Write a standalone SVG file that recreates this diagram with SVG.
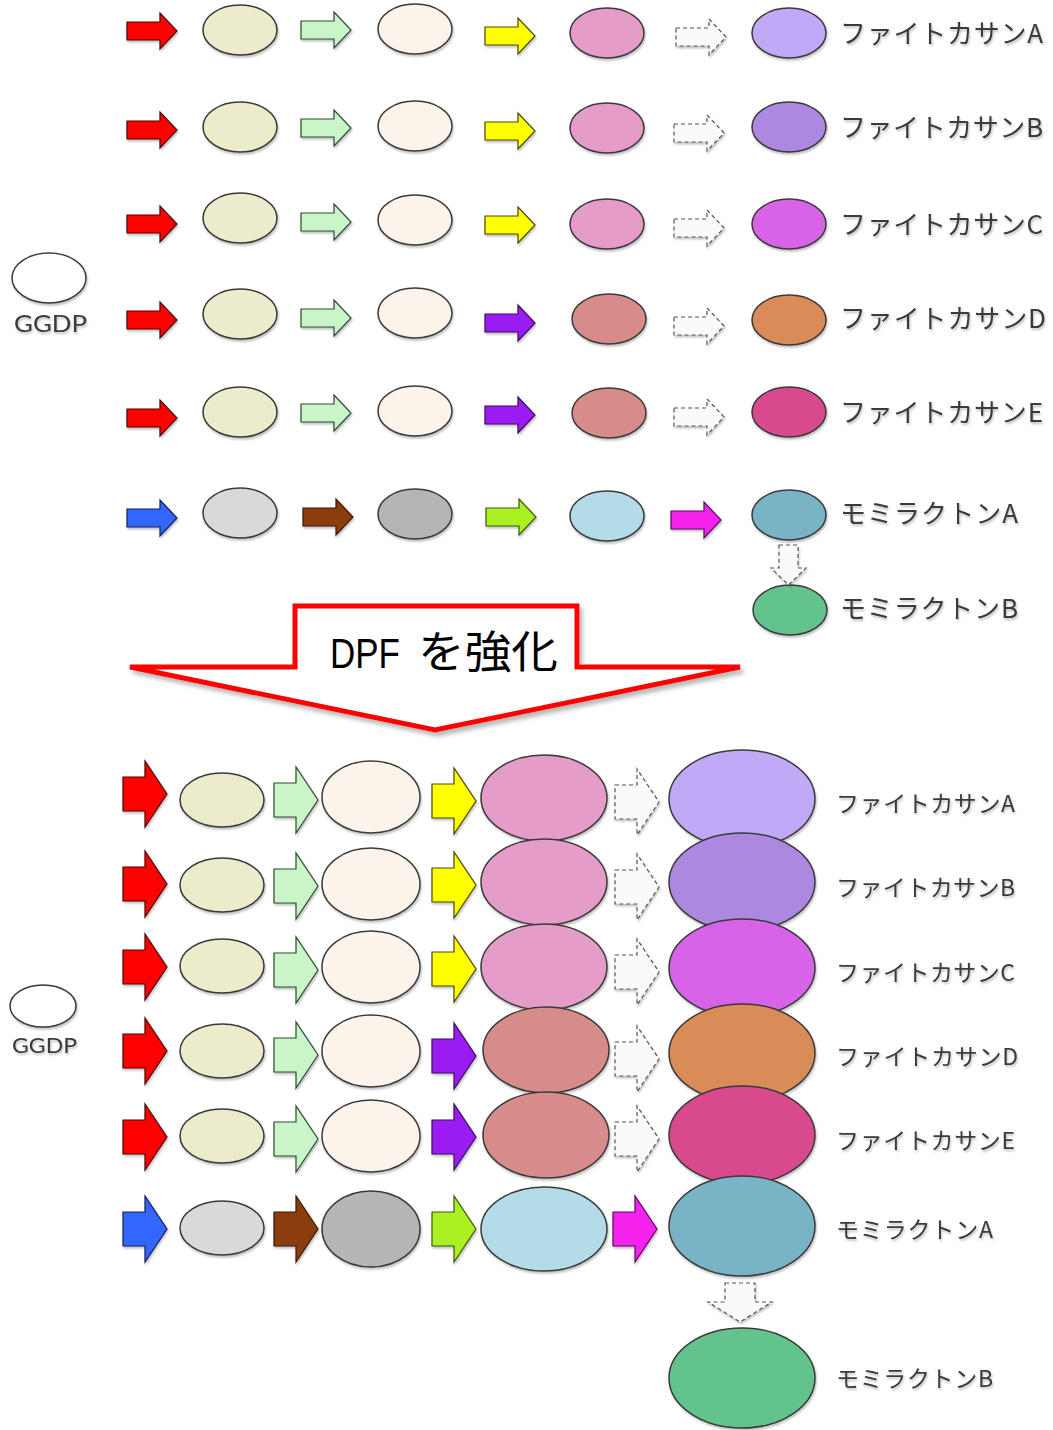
<svg xmlns="http://www.w3.org/2000/svg" xmlns:xlink="http://www.w3.org/1999/xlink" width="1053" height="1430" viewBox="0 0 1053 1430">
<style>
.n ellipse{stroke:#3a3a3a;stroke-width:1.5}
.cream{fill:#ecebcb}.peach{fill:#fcf3ea}.pink{fill:#e69cc9}.lav{fill:#c0aaf8}.vio{fill:#ac88e0}.orc{fill:#d862e8}.org{fill:#d98c58}.rose{fill:#d84a8e}.sal{fill:#d78c8a}.lgr{fill:#d9d9d9}.gry{fill:#b5b5b5}.lbl{fill:#b4dce8}.teal{fill:#79b3c6}.grn2{fill:#62c48c}.wht{fill:#ffffff}
.red{fill:#ff0000;stroke:#4a0a0a;stroke-width:1.2}
.grn{fill:#c9f5c9;stroke:#2e4a2e;stroke-width:1.2}
.yel{fill:#ffff00;stroke:#4a4a00;stroke-width:1.2}
.pur{fill:#9b1ff2;stroke:#3a0a5a;stroke-width:1.2}
.dsh{fill:#fafafa;stroke:#555;stroke-width:1.2;stroke-dasharray:4 3}
.blu{fill:#3366ff;stroke:#10205a;stroke-width:1.2}
.brn{fill:#8b3c0c;stroke:#3a1a05;stroke-width:1.2}
.lim{fill:#aaf024;stroke:#3a5a0a;stroke-width:1.2}
.mag{fill:#f521ee;stroke:#5a0a5a;stroke-width:1.2}
.lt{font-family:"Noto Sans CJK JP","Noto Sans",sans-serif;fill:#3a3a3a}
.lg{font-family:Lato,"Noto Sans",sans-serif;fill:#3a3a3a}
</style>
<defs>
<filter id="sh" x="-20%" y="-20%" width="140%" height="150%"><feDropShadow dx="1" dy="2" stdDeviation="1.2" flood-opacity="0.25"/></filter>
<filter id="sh2" x="-10%" y="-10%" width="120%" height="140%"><feDropShadow dx="3" dy="4" stdDeviation="2" flood-color="#888" flood-opacity="0.6"/></filter>
<path id="aT" d="M0,-9H33V-18L50,0L33,18V9H0Z"/>
<path id="aB" d="M0,-17H22V-33L44,0L22,33V17H0Z"/>
<path id="dT" d="M-9.5,0H9.5V23H17.5L0,40L-17.5,23H-9.5Z"/>
<path id="dB" d="M-15,0H15V19H32L0,39L-32,19H-15Z"/>
</defs>
<rect width="1053" height="1430" fill="#ffffff"/>

<!-- TOP SECTION -->
<g id="top-ggdp" class="n" filter="url(#sh)"><ellipse class="wht" cx="49" cy="278" rx="37" ry="25"/><text class="lg" x="14" y="332" font-size="24" textLength="73" lengthAdjust="spacingAndGlyphs">GGDP</text></g>

<g id="top-nodes" class="n" filter="url(#sh)">
<g id="t1-e1"><ellipse class="cream" cx="240" cy="30" rx="37" ry="25"/></g>
<g id="t1-e2"><ellipse class="peach" cx="415" cy="29" rx="37" ry="25"/></g>
<g id="t1-e3"><ellipse class="pink" cx="607" cy="33" rx="37" ry="25"/></g>
<g id="t1-e4"><ellipse class="lav" cx="789" cy="33" rx="37" ry="25"/><text class="lt" x="840" y="43" font-size="26" textLength="203" lengthAdjust="spacing">ファイトカサンA</text></g>

<g id="t2-e1"><ellipse class="cream" cx="240" cy="127" rx="37" ry="25"/></g>
<g id="t2-e2"><ellipse class="peach" cx="415" cy="126" rx="37" ry="25"/></g>
<g id="t2-e3"><ellipse class="pink" cx="607" cy="128" rx="37" ry="25"/></g>
<g id="t2-e4"><ellipse class="vio" cx="789" cy="127" rx="37" ry="25"/><text class="lt" x="840" y="137" font-size="26" textLength="203" lengthAdjust="spacing">ファイトカサンB</text></g>

<g id="t3-e1"><ellipse class="cream" cx="240" cy="218" rx="37" ry="25"/></g>
<g id="t3-e2"><ellipse class="peach" cx="415" cy="220" rx="37" ry="25"/></g>
<g id="t3-e3"><ellipse class="pink" cx="607" cy="224" rx="37" ry="25"/></g>
<g id="t3-e4"><ellipse class="orc" cx="789" cy="224" rx="37" ry="25"/><text class="lt" x="840" y="234" font-size="26" textLength="203" lengthAdjust="spacing">ファイトカサンC</text></g>

<g id="t4-e1"><ellipse class="cream" cx="240" cy="314" rx="37" ry="25"/></g>
<g id="t4-e2"><ellipse class="peach" cx="415" cy="313" rx="37" ry="25"/></g>
<g id="t4-e3"><ellipse class="sal" cx="609" cy="319" rx="37" ry="25"/></g>
<g id="t4-e4"><ellipse class="org" cx="789" cy="320" rx="37" ry="25"/><text class="lt" x="840" y="328" font-size="26" textLength="206" lengthAdjust="spacing">ファイトカサンD</text></g>

<g id="t5-e1"><ellipse class="cream" cx="240" cy="412" rx="37" ry="25"/></g>
<g id="t5-e2"><ellipse class="peach" cx="415" cy="411" rx="37" ry="25"/></g>
<g id="t5-e3"><ellipse class="sal" cx="609" cy="413" rx="37" ry="25"/></g>
<g id="t5-e4"><ellipse class="rose" cx="789" cy="412" rx="37" ry="25"/><text class="lt" x="840" y="422" font-size="26" textLength="203" lengthAdjust="spacing">ファイトカサンE</text></g>

<g id="t6-e1"><ellipse class="lgr" cx="240" cy="513" rx="37" ry="25"/></g>
<g id="t6-e2"><ellipse class="gry" cx="415" cy="514" rx="37" ry="25"/></g>
<g id="t6-e3"><ellipse class="lbl" cx="607" cy="516" rx="37" ry="25"/></g>
<g id="t6-e4"><ellipse class="teal" cx="789" cy="515" rx="37" ry="25"/><text class="lt" x="840" y="523" font-size="26" textLength="178" lengthAdjust="spacing">モミラクトンA</text></g>
<g id="t7-e4"><ellipse class="grn2" cx="790" cy="610" rx="37" ry="25"/><text class="lt" x="840" y="618" font-size="26" textLength="178" lengthAdjust="spacing">モミラクトンB</text></g>
</g>

<g id="top-connectors" filter="url(#sh)">
<use href="#aT" x="127" y="31" class="red"/><use href="#aT" x="301" y="30" class="grn"/><use href="#aT" x="485" y="36" class="yel"/><use href="#aT" x="676" y="37" class="dsh"/>
<use href="#aT" x="127" y="130" class="red"/><use href="#aT" x="301" y="128" class="grn"/><use href="#aT" x="485" y="131" class="yel"/><use href="#aT" x="674" y="133" class="dsh"/>
<use href="#aT" x="127" y="224" class="red"/><use href="#aT" x="301" y="222" class="grn"/><use href="#aT" x="485" y="225" class="yel"/><use href="#aT" x="674" y="228" class="dsh"/>
<use href="#aT" x="127" y="320" class="red"/><use href="#aT" x="301" y="318" class="grn"/><use href="#aT" x="485" y="323" class="pur"/><use href="#aT" x="674" y="326" class="dsh"/>
<use href="#aT" x="127" y="418" class="red"/><use href="#aT" x="301" y="413" class="grn"/><use href="#aT" x="485" y="415" class="pur"/><use href="#aT" x="674" y="417" class="dsh"/>
<use href="#aT" x="127" y="518" class="blu"/><use href="#aT" x="303" y="517" class="brn"/><use href="#aT" x="486" y="517" class="lim"/><use href="#aT" x="671" y="520" class="mag"/>
<use href="#dT" x="788.5" y="545" class="dsh"/>
</g>

<!-- BIG ARROW -->
<g id="dpf-arrow">
<polygon points="130,667 295,667 295,606 577,606 577,667 740,667 435,730" fill="#ffffff" stroke="#ff0000" stroke-width="5" stroke-linejoin="miter" filter="url(#sh2)"/>
<text y="668" font-size="42" fill="#000"><tspan x="330" font-family="'Liberation Sans',sans-serif" textLength="70" lengthAdjust="spacingAndGlyphs">DPF</tspan><tspan x="418" font-family="'Noto Sans CJK JP',sans-serif" font-size="44" textLength="140" lengthAdjust="spacingAndGlyphs">を強化</tspan></text>
</g>

<!-- BOTTOM SECTION -->
<g id="bot-ggdp" class="n" filter="url(#sh)"><ellipse class="wht" cx="43" cy="1006" rx="33" ry="21"/><text class="lg" x="12" y="1053" font-size="21" textLength="65" lengthAdjust="spacingAndGlyphs">GGDP</text></g>

<g id="bot-nodes" class="n" filter="url(#sh)">
<g id="b1-e1"><ellipse class="cream" cx="222" cy="800" rx="42" ry="27"/></g>
<g id="b1-e2"><ellipse class="peach" cx="371" cy="797" rx="49" ry="36"/></g>
<g id="b1-e3"><ellipse class="pink" cx="544" cy="798" rx="63" ry="43"/></g>
<g id="b1-e4"><ellipse class="lav" cx="742" cy="799" rx="73" ry="49"/><text class="lt" x="836" y="812" font-size="23" textLength="179" lengthAdjust="spacing">ファイトカサンA</text></g>

<g id="b2-e1"><ellipse class="cream" cx="222" cy="885" rx="42" ry="27"/></g>
<g id="b2-e2"><ellipse class="peach" cx="371" cy="884" rx="49" ry="36"/></g>
<g id="b2-e3"><ellipse class="pink" cx="544" cy="882" rx="63" ry="43"/></g>
<g id="b2-e4"><ellipse class="vio" cx="742" cy="882" rx="73" ry="49"/><text class="lt" x="836" y="896" font-size="23" textLength="179" lengthAdjust="spacing">ファイトカサンB</text></g>

<g id="b3-e1"><ellipse class="cream" cx="222" cy="966" rx="42" ry="27"/></g>
<g id="b3-e2"><ellipse class="peach" cx="371" cy="967" rx="49" ry="36"/></g>
<g id="b3-e3"><ellipse class="pink" cx="544" cy="967" rx="63" ry="43"/></g>
<g id="b3-e4"><ellipse class="orc" cx="742" cy="968" rx="73" ry="49"/><text class="lt" x="836" y="981" font-size="23" textLength="179" lengthAdjust="spacing">ファイトカサンC</text></g>

<g id="b4-e1"><ellipse class="cream" cx="222" cy="1051" rx="42" ry="27"/></g>
<g id="b4-e2"><ellipse class="peach" cx="371" cy="1051" rx="49" ry="36"/></g>
<g id="b4-e3"><ellipse class="sal" cx="546" cy="1050" rx="63" ry="43"/></g>
<g id="b4-e4"><ellipse class="org" cx="742" cy="1053" rx="73" ry="49"/><text class="lt" x="836" y="1065" font-size="23" textLength="182" lengthAdjust="spacing">ファイトカサンD</text></g>

<g id="b5-e1"><ellipse class="cream" cx="222" cy="1136" rx="42" ry="27"/></g>
<g id="b5-e2"><ellipse class="peach" cx="371" cy="1136" rx="49" ry="36"/></g>
<g id="b5-e3"><ellipse class="sal" cx="546" cy="1135" rx="63" ry="43"/></g>
<g id="b5-e4"><ellipse class="rose" cx="742" cy="1135" rx="73" ry="49"/><text class="lt" x="836" y="1149" font-size="23" textLength="179" lengthAdjust="spacing">ファイトカサンE</text></g>

<g id="b6-e1"><ellipse class="lgr" cx="222" cy="1228" rx="42" ry="27"/></g>
<g id="b6-e2"><ellipse class="gry" cx="371" cy="1229" rx="49" ry="38"/></g>
<g id="b6-e3"><ellipse class="lbl" cx="544" cy="1229" rx="63" ry="42"/></g>
<g id="b6-e4"><ellipse class="teal" cx="742" cy="1226" rx="73" ry="50"/><text class="lt" x="836" y="1238" font-size="23" textLength="157" lengthAdjust="spacing">モミラクトンA</text></g>
<g id="b7-e4"><ellipse class="grn2" cx="742" cy="1378" rx="73" ry="50"/><text class="lt" x="836" y="1387" font-size="23" textLength="157" lengthAdjust="spacing">モミラクトンB</text></g>
</g>

<g id="bot-connectors" filter="url(#sh)">
<use href="#aB" x="123" y="794" class="red"/><use href="#aB" x="274" y="800" class="grn"/><use href="#aB" x="432" y="801" class="yel"/><use href="#aB" x="615" y="802" class="dsh"/>
<use href="#aB" x="123" y="884" class="red"/><use href="#aB" x="274" y="886" class="grn"/><use href="#aB" x="432" y="885" class="yel"/><use href="#aB" x="615" y="887" class="dsh"/>
<use href="#aB" x="123" y="967" class="red"/><use href="#aB" x="274" y="970" class="grn"/><use href="#aB" x="432" y="969" class="yel"/><use href="#aB" x="615" y="972" class="dsh"/>
<use href="#aB" x="123" y="1051" class="red"/><use href="#aB" x="274" y="1055" class="grn"/><use href="#aB" x="432" y="1056" class="pur"/><use href="#aB" x="615" y="1059" class="dsh"/>
<use href="#aB" x="123" y="1137" class="red"/><use href="#aB" x="274" y="1139" class="grn"/><use href="#aB" x="432" y="1137" class="pur"/><use href="#aB" x="615" y="1139" class="dsh"/>
<use href="#aB" x="123" y="1229" class="blu"/><use href="#aB" x="274" y="1229" class="brn"/><use href="#aB" x="432" y="1229" class="lim"/><use href="#aB" x="613" y="1229" class="mag"/>
<use href="#dB" x="740" y="1283" class="dsh"/>
</g>
</svg>
